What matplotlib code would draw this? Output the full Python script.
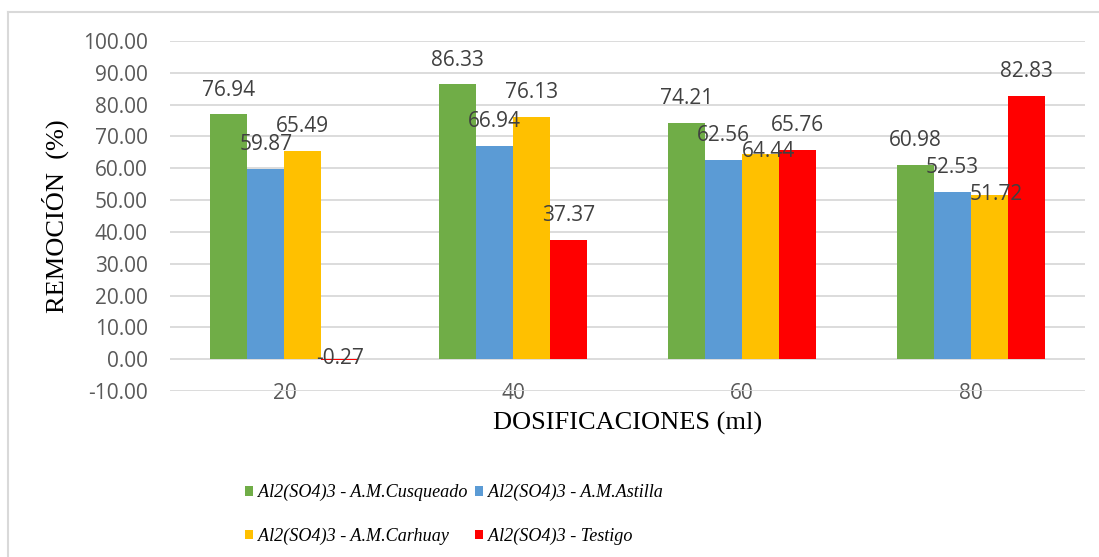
import matplotlib
matplotlib.use("Agg")
import matplotlib.pyplot as plt
from matplotlib.patches import Patch
from matplotlib.lines import Line2D
import numpy as np

dosis = ["20", "40", "60", "80"]
cusqueado = [76.94, 86.33, 74.21, 60.98]
astilla = [59.87, 66.94, 62.56, 52.53]
carhuay = [65.49, 76.13, 64.44, 51.72]
testigo = [-0.27, 37.37, 65.76, 82.83]

series = [
    ("Al2(SO4)3 - A.M.Cusqueado", cusqueado, "#70AD47"),
    ("Al2(SO4)3 - A.M.Astilla", astilla, "#5B9BD5"),
    ("Al2(SO4)3 - A.M.Carhuay", carhuay, "#FFC000"),
    ("Al2(SO4)3 - Testigo", testigo, "#FF0000"),
]

# label nudges (points) for labels that were moved by hand: (series, category) -> (dx, dy)
label_shift = {(2, 2): (5.5, 2), (2, 3): (5, 0), (3, 0): (0, 1)}

W, H = 1099, 557
fig = plt.figure(figsize=(W / 100, H / 100), dpi=100)
ax = fig.add_axes([170 / W, 1 - 391 / H, 915 / W, 350 / H])

# chart frame (only top and left edges fall inside the image)
fig.add_artist(Line2D([8 / W, 8 / W], [0, 1 - 12 / H], transform=fig.transFigure,
                      color="#d9d9d9", lw=1.5))
fig.add_artist(Line2D([8 / W, 1], [1 - 12 / H, 1 - 12 / H], transform=fig.transFigure,
                      color="#d9d9d9", lw=1.5))

x = np.arange(len(dosis))
bw = 0.162
for k, (name, vals, col) in enumerate(series):
    pos = x + (k - 1.5) * bw
    ax.bar(pos, vals, width=bw, color=col, zorder=2)
    for j, (px, v) in enumerate(zip(pos, vals)):
        dx, dy = label_shift.get((k, j), (0, 17.5))
        ax.annotate(f"{v:.2f}", (px, v), xytext=(dx, dy), textcoords="offset points",
                    ha="center", va="center", fontsize=15, color="#404040",
                    family="Open Sans", zorder=3)

ax.set_xlim(-0.5, 3.5)
ax.set_ylim(-10, 100)
ax.set_yticks(np.arange(-10, 101, 10))
ax.set_yticklabels([f"{t:.2f}" for t in np.arange(-10, 101, 10)])
ax.set_xticks(x)
ax.set_xticklabels(dosis)
ax.grid(axis="y", color="#d9d9d9", lw=1.3, zorder=0)
ax.set_axisbelow(True)
for s in ax.spines.values():
    s.set_visible(False)
ax.tick_params(axis="y", length=0, pad=16, labelsize=15, labelcolor="#595959")
ax.tick_params(axis="x", length=0, pad=-6, labelsize=15, labelcolor="#595959")
for lab in ax.get_xticklabels() + ax.get_yticklabels():
    lab.set_family("Open Sans")

ax.set_xlabel("DOSIFICACIONES (ml)", family="Liberation Serif", fontsize=19,
              va="center", ha="center")
ax.xaxis.set_label_coords(0.5, -32 / 350)
ax.set_ylabel("REMOCIÓN  (%)", family="Liberation Serif", fontsize=19,
              va="center", ha="center")
ax.yaxis.set_label_coords(-115 / 915, 0.5)

# legend is filled column by column, so order the handles to read across rows
handles = [Patch(facecolor=c, edgecolor="none", label=n) for n, _, c in series]
handles = [handles[0], handles[2], handles[1], handles[3]]
fig.legend(handles=handles, loc="upper left", ncol=2,
           bbox_to_anchor=(245 / W, 1 - 484 / H), frameon=False,
           prop={"family": "Liberation Serif", "style": "italic", "size": 13.1},
           handlelength=0.45, handleheight=0.45, handletextpad=0.28,
           columnspacing=0.4, labelspacing=1.45, borderpad=0, borderaxespad=0)

fig.savefig("out.png", dpi=100, facecolor="white")
